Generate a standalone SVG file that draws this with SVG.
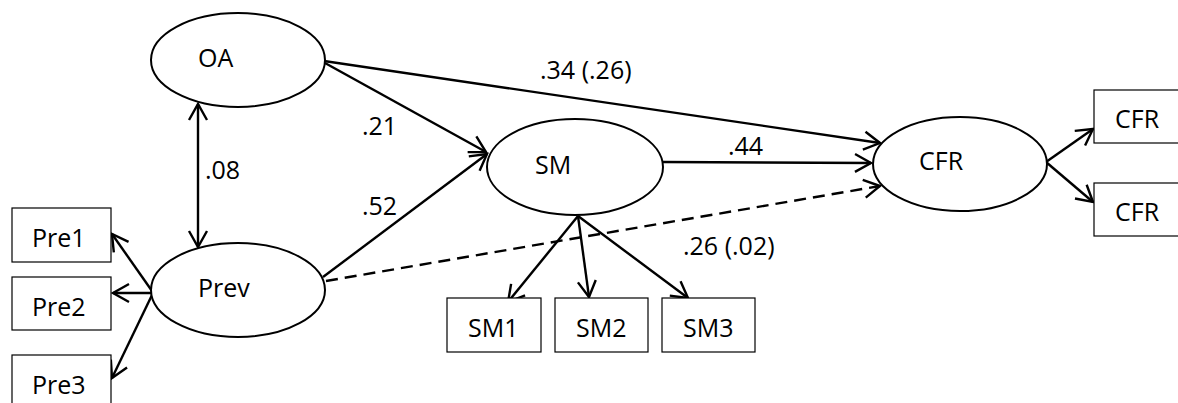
<svg xmlns="http://www.w3.org/2000/svg" width="1178" height="403" viewBox="0 0 1178 403">
<style>
text{font-family:"Open Sans","Liberation Sans",Arial,sans-serif;font-size:25px;fill:#000}
.el{fill:#fff;stroke:#000;stroke-width:2}
.bx{fill:#fff;stroke:#000;stroke-width:1.2}
.ln{fill:none;stroke:#000;stroke-width:2.4}
.da{stroke-dasharray:12 7}
</style>
<defs>
<marker id="ah" markerUnits="userSpaceOnUse" markerWidth="24" markerHeight="24" viewBox="-20 -12 24 24" refX="0" refY="0" orient="auto-start-reverse">
<path d="M-16,-9 L0,0 L-16,9" fill="none" stroke="#000" stroke-width="2.4"/>
</marker>
</defs>
<g id="connectors">
<line class="ln" x1="198" y1="104" x2="198" y2="247" marker-start="url(#ah)" marker-end="url(#ah)"/>
<line class="ln" x1="152" y1="291" x2="112" y2="234" marker-end="url(#ah)"/>
<line class="ln" x1="152" y1="293" x2="113" y2="293" marker-end="url(#ah)"/>
<line class="ln" x1="152" y1="295" x2="112" y2="378" marker-end="url(#ah)"/>
<line class="ln" x1="325" y1="63" x2="486" y2="152" marker-end="url(#ah)"/>
<line class="ln" x1="324" y1="61" x2="880" y2="143" marker-end="url(#ah)"/>
<line class="ln" x1="323" y1="277" x2="487" y2="154" marker-end="url(#ah)"/>
<line class="ln da" x1="326" y1="281" x2="880" y2="186" marker-end="url(#ah)"/>
<line class="ln" x1="663" y1="162" x2="871" y2="163" marker-end="url(#ah)"/>
<line class="ln" x1="578" y1="216" x2="508" y2="302" marker-end="url(#ah)"/>
<line class="ln" x1="578" y1="216" x2="589" y2="297" marker-end="url(#ah)"/>
<line class="ln" x1="578" y1="216" x2="688" y2="298" marker-end="url(#ah)"/>
<line class="ln" x1="1046" y1="162" x2="1093" y2="129" marker-end="url(#ah)"/>
<line class="ln" x1="1046" y1="162" x2="1093" y2="202" marker-end="url(#ah)"/>
</g>
<g id="labels">
<text x="205" y="179">.08</text>
<text x="362" y="135">.21</text>
<text x="362" y="215">.52</text>
<text x="540" y="79">.34 (.26)</text>
<text x="728" y="155">.44</text>
<text x="683" y="255">.26 (.02)</text>
</g>
<g id="OA"><ellipse class="el" cx="238" cy="60" rx="87" ry="47"/><text x="198" y="67">OA</text></g>
<g id="Prev"><ellipse class="el" cx="238" cy="290" rx="87" ry="47"/><text x="198" y="297">Prev</text></g>
<g id="SM"><ellipse class="el" cx="575" cy="167" rx="88" ry="48"/><text x="535" y="174">SM</text></g>
<g id="CFR"><ellipse class="el" cx="960" cy="164" rx="87" ry="47"/><text x="919" y="170">CFR</text></g>
<g id="Pre1"><rect class="bx" x="12" y="208" width="99" height="54"/><text x="32" y="247">Pre1</text></g>
<g id="Pre2"><rect class="bx" x="12" y="277" width="99" height="53"/><text x="32" y="316">Pre2</text></g>
<g id="Pre3"><rect class="bx" x="12" y="355" width="99" height="60"/><text x="32" y="394">Pre3</text></g>
<g id="SM1"><rect class="bx" x="447" y="298" width="94" height="54"/><text x="468" y="337">SM1</text></g>
<g id="SM2"><rect class="bx" x="555" y="298" width="93" height="54"/><text x="576" y="337">SM2</text></g>
<g id="SM3"><rect class="bx" x="662" y="298" width="93" height="54"/><text x="683" y="337">SM3</text></g>
<g id="CFR1"><rect class="bx" x="1094" y="90" width="90" height="53"/><text x="1115" y="128">CFR</text></g>
<g id="CFR2"><rect class="bx" x="1094" y="183" width="90" height="53"/><text x="1115" y="221">CFR</text></g>
</svg>
